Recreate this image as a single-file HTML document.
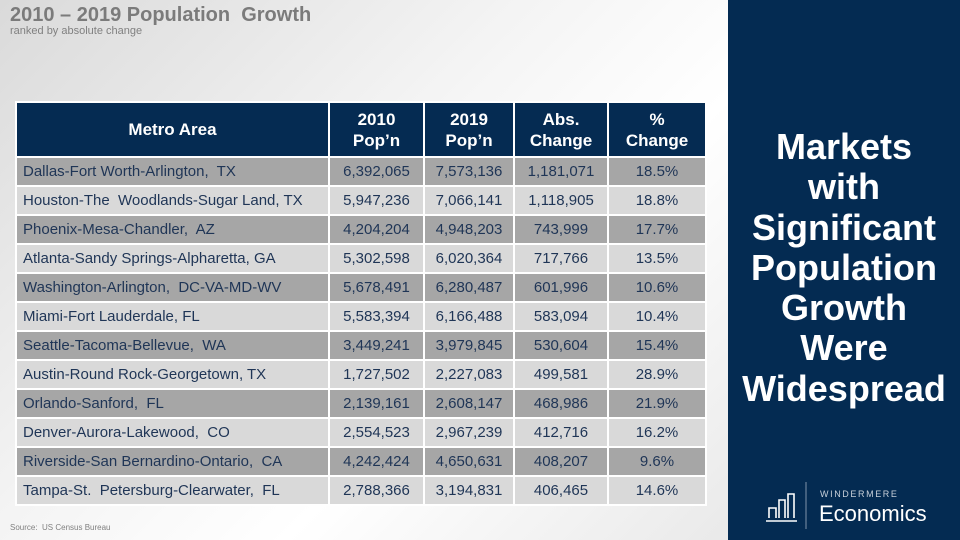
<!DOCTYPE html>
<html><head><meta charset="utf-8"><style>
*{margin:0;padding:0;box-sizing:border-box}
body{width:960px;height:540px;overflow:hidden;position:relative;font-family:"Liberation Sans",Arial,sans-serif;background:linear-gradient(135deg,#dadada 0%,#f4f4f4 35%,#ffffff 55%,#e9e9e9 85%,#dedede 100%)}
.t1{position:absolute;left:10px;top:4px;font-size:20px;font-weight:bold;color:#7b7b7b;white-space:nowrap}
.t2{position:absolute;left:10px;top:25px;font-size:11px;color:#808080}
.src{position:absolute;left:10px;top:523px;font-size:8px;color:#808080}
table{position:absolute;left:15px;top:101px;border-collapse:collapse;}
td,th{border:2px solid #fff;color:#1f3556;font-size:15px;text-align:center;height:29px;padding:0}
th{background:#052b52;color:#fff;font-weight:bold;font-size:17px;height:55px;line-height:21px}
td.n{text-align:left;padding-left:6px}
tr.d td{background:#a6a6a6}
tr.l td{background:#d9d9d9}
.panel{position:absolute;left:728px;top:0;width:232px;height:540px;background:#042b52}
.big{position:absolute;left:0;width:232px;top:127px;text-align:center;color:#fff;font-weight:bold;font-size:36px;line-height:40.3px}
.logo{position:absolute;left:0;top:0}
</style></head><body>
<div class="t1">2010 – 2019 Population&nbsp; Growth</div>
<div class="t2">ranked by absolute change</div>
<table>
<tr><th style="width:313px">Metro Area</th><th style="width:95px">2010<br>Pop’n</th><th style="width:90px">2019<br>Pop’n</th><th style="width:94px">Abs.<br>Change</th><th style="width:98px">%<br>Change</th></tr>
<tr class="d"><td class="n">Dallas-Fort Worth-Arlington,&nbsp; TX</td><td>6,392,065</td><td>7,573,136</td><td>1,181,071</td><td>18.5%</td></tr>
<tr class="l"><td class="n">Houston-The&nbsp; Woodlands-Sugar Land, TX</td><td>5,947,236</td><td>7,066,141</td><td>1,118,905</td><td>18.8%</td></tr>
<tr class="d"><td class="n">Phoenix-Mesa-Chandler,&nbsp; AZ</td><td>4,204,204</td><td>4,948,203</td><td>743,999</td><td>17.7%</td></tr>
<tr class="l"><td class="n">Atlanta-Sandy Springs-Alpharetta, GA</td><td>5,302,598</td><td>6,020,364</td><td>717,766</td><td>13.5%</td></tr>
<tr class="d"><td class="n">Washington-Arlington,&nbsp; DC-VA-MD-WV</td><td>5,678,491</td><td>6,280,487</td><td>601,996</td><td>10.6%</td></tr>
<tr class="l"><td class="n">Miami-Fort Lauderdale, FL</td><td>5,583,394</td><td>6,166,488</td><td>583,094</td><td>10.4%</td></tr>
<tr class="d"><td class="n">Seattle-Tacoma-Bellevue,&nbsp; WA</td><td>3,449,241</td><td>3,979,845</td><td>530,604</td><td>15.4%</td></tr>
<tr class="l"><td class="n">Austin-Round Rock-Georgetown, TX</td><td>1,727,502</td><td>2,227,083</td><td>499,581</td><td>28.9%</td></tr>
<tr class="d"><td class="n">Orlando-Sanford,&nbsp; FL</td><td>2,139,161</td><td>2,608,147</td><td>468,986</td><td>21.9%</td></tr>
<tr class="l"><td class="n">Denver-Aurora-Lakewood,&nbsp; CO</td><td>2,554,523</td><td>2,967,239</td><td>412,716</td><td>16.2%</td></tr>
<tr class="d"><td class="n">Riverside-San Bernardino-Ontario,&nbsp; CA</td><td>4,242,424</td><td>4,650,631</td><td>408,207</td><td>9.6%</td></tr>
<tr class="l"><td class="n">Tampa-St.&nbsp; Petersburg-Clearwater,&nbsp; FL</td><td>2,788,366</td><td>3,194,831</td><td>406,465</td><td>14.6%</td></tr>
</table>
<div class="src">Source:&nbsp; US Census Bureau</div>
<div class="panel">
<div class="big">Markets<br>with<br>Significant<br>Population<br>Growth<br>Were<br>Widespread</div>
<svg class="logo" width="232" height="540">
<g fill="none" stroke="#fff" stroke-width="1.6">
<path d="M41 518 V508 H48 V518 M51 518 V500 H57 V518 M60 518 V494 H66 V518"/>
<path d="M38 521 H69"/>
</g>
<line x1="78" y1="482" x2="78" y2="529" stroke="#7f93ab" stroke-width="1"/>
<text x="92" y="497" fill="#c8d0da" font-size="9" letter-spacing="1.6" font-family="Liberation Sans,sans-serif">WINDERMERE</text>
<text x="91" y="521" fill="#fff" font-size="22" font-family="Liberation Sans,sans-serif">Economics</text>
</svg>
</div>
</body></html>
